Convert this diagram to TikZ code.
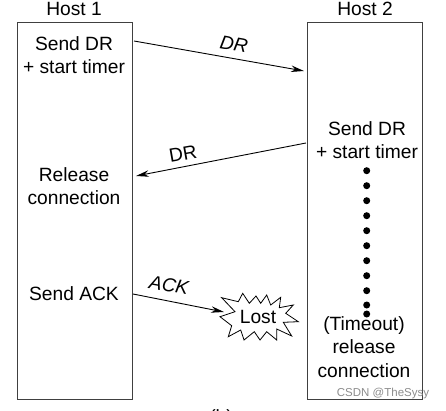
\documentclass[tikz,border=0pt]{standalone}
\usepackage{fontspec}
\setmainfont{Liberation Sans}
\usetikzlibrary{arrows.meta}
\tikzset{
  hostbox/.style={draw=black!75,line width=1pt,minimum width=115pt,minimum height=376pt,inner sep=0pt},
  msg/.style={align=center,inner sep=0pt,font=\fontsize{19.2}{23.2}\selectfont},
  msgline/.style={line width=0.9pt,color=black,-{Stealth[length=13pt,width=6.5pt]}},
  blast/.style={draw=black,line width=0.8pt,fill=white,line join=miter},
  wire/.style={inner sep=0pt,font=\fontsize{19.2}{23.2}\selectfont}
}
\begin{document}
\begin{tikzpicture}[x=1pt,y=-1pt]
\useasboundingbox (0,0) rectangle (446,411);

\node[hostbox] (host1) at (74.5,211) {};
\node[hostbox] (host2) at (364.5,211) {};

\node[msg] (name1) at (74,9) {Host 1};
\node[msg] (name2) at (365,9) {Host 2};

\node[msg] (send1) at (74,55) {Send DR\\+ start timer};
\node[msg] (rel1) at (74,186) {Release\\connection};
\node[msg] (ack1) at (74,294) {Send ACK};
\node[msg] (send2) at (367,140) {Send DR\\+ start timer};
\node[msg] (rel2) at (364,347) {(Timeout)\\release\\connection};

\coordinate (a1) at (134,41);
\coordinate (b1) at (304,71);
\coordinate (a2) at (306,143);
\coordinate (b2) at (136,176);
\coordinate (a3) at (133,294);
\coordinate (b3) at (224,312);

\draw[msgline] (a1) -- (b1);
\draw[msgline] (a2) -- (b2);
\draw[msgline] (a3) -- (b3);

\node[wire,rotate=-10] (dr1) at (234,44) {\itshape DR};
\node[wire,rotate=10] (dr2) at (183,154) {DR};
\node[wire,rotate=-10] (dr3) at (169,285) {\itshape ACK};

\draw[blast] (221.7,297.7) -- (238.3,301.7) -- (242.7,293.3) -- (249.3,303.3) -- (256,296) -- (260.7,303.3)
  -- (266.7,295) -- (270.7,305) -- (280.7,297.3) -- (279.3,307.7) -- (293.3,305) -- (285.7,313.3)
  -- (298.3,321.7) -- (283.3,322.3) -- (291.7,336) -- (276.7,329) -- (276.7,340) -- (266.7,331.7)
  -- (260,340) -- (254.3,331.7) -- (244,340) -- (240.7,330) -- (228.3,336.7) -- (231.7,325.7)
  -- (220,316.7) -- (235,311.7) -- cycle;
\node[msg] (lost) at (258,317) {Lost};

\foreach \y in {170.7,185.7,200.7,215.7,230.7,245.7,260.7,275.7,290.7,305,314}
  \fill[black] (366.7,\y) circle (3.5pt);

\node[wire] (sub) at (221,419) {(b)};
\node[inner sep=0pt,text=black!45,font=\fontsize{11.5}{12}\selectfont] (mark) at (383,394) {CSDN @TheSysy};
\end{tikzpicture}
\end{document}
